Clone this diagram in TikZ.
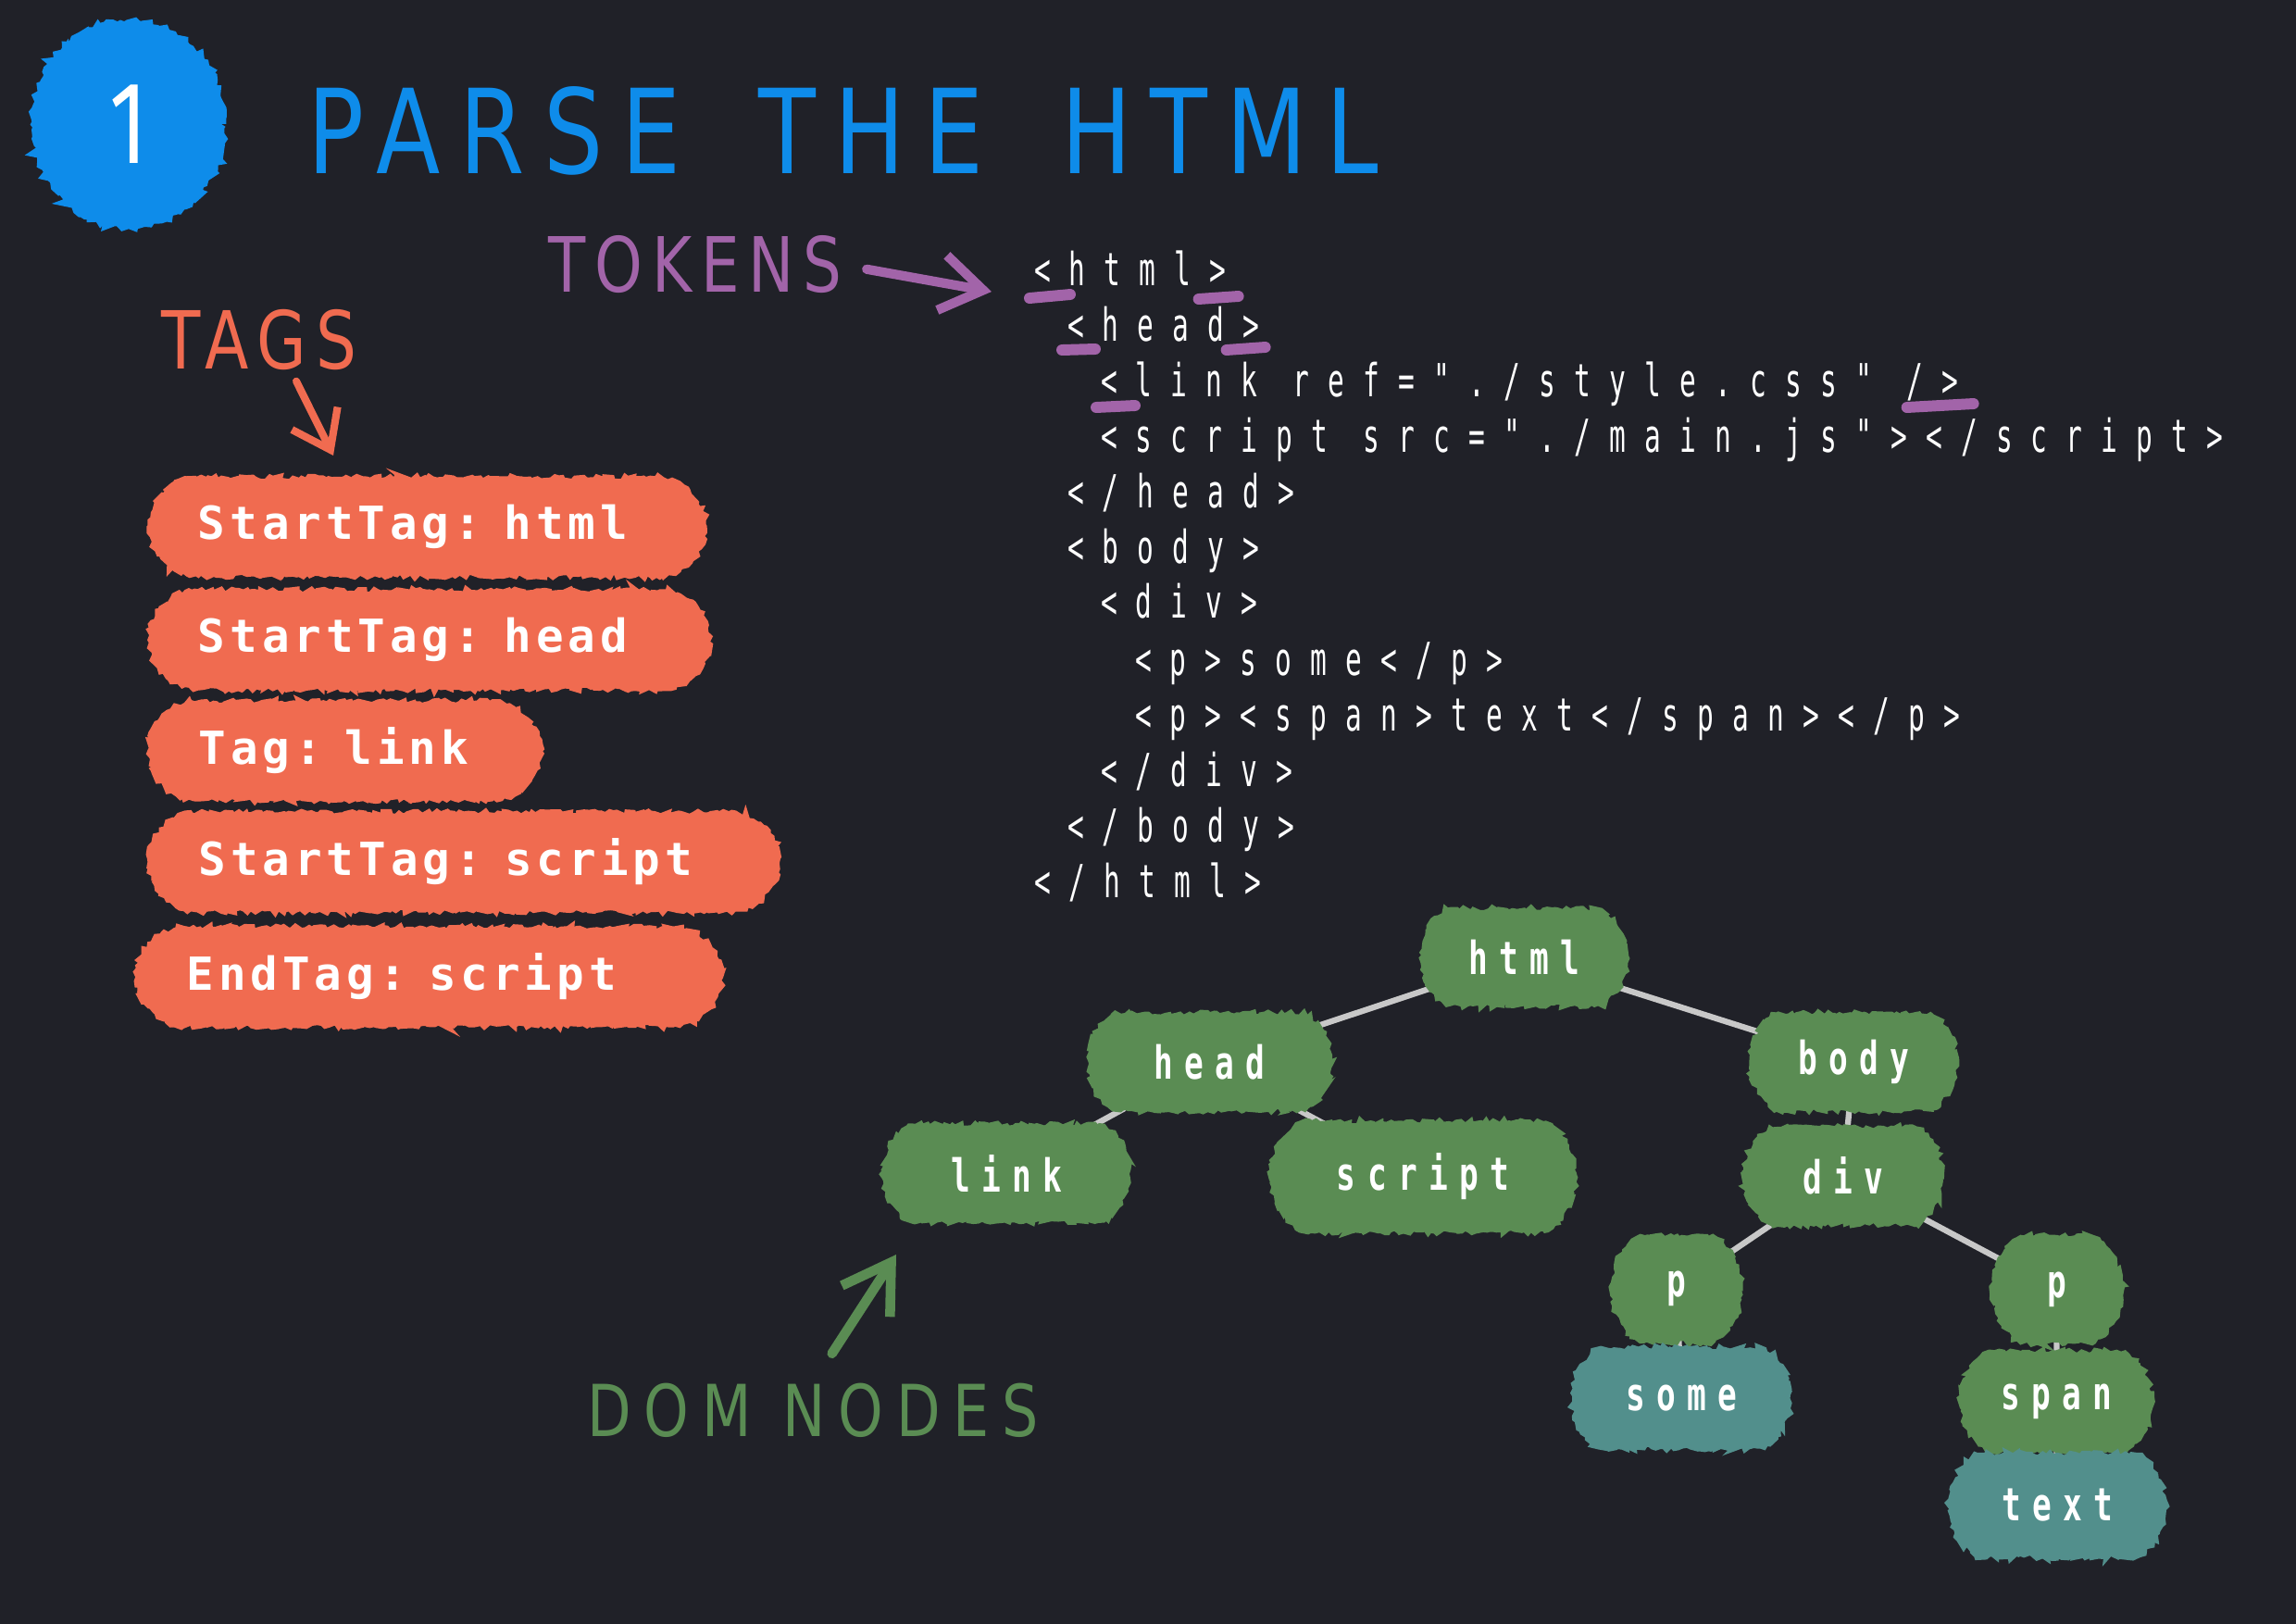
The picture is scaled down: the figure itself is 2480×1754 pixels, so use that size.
\documentclass[tikz,border=0pt]{standalone}
\usepackage{fontspec}
\usepackage{tikz}
\usetikzlibrary{arrows.meta, positioning, shapes.geometric, shapes.misc, decorations.pathmorphing}
\pgfdeclarelayer{background}
\pgfsetlayers{background,main}
\definecolor{bgdark}{HTML}{202128}
\definecolor{titleblue}{HTML}{0E8CEA}
\definecolor{tagorange}{HTML}{F06B50}
\definecolor{tokpurple}{HTML}{A264A9}
\definecolor{domgreen}{HTML}{5A8C53}
\definecolor{domteal}{HTML}{528F8C}
\definecolor{edgegray}{HTML}{C8C8C8}
\setmainfont{DejaVu Sans}
\newfontfamily\handfont{DejaVu Sans}[FakeStretch=0.8,LetterSpace=12]
\newfontfamily\titlefont{DejaVu Sans}[FakeStretch=0.8,LetterSpace=16]
\newfontfamily\numfont{Fira Sans}[FakeStretch=0.75]
\newfontfamily\codefont{DejaVu Sans Mono}[FakeStretch=0.6,LetterSpace=41]
\newfontfamily\tagfont{DejaVu Sans Mono}[LetterSpace=10]
\newfontfamily\nodefont{DejaVu Sans Mono}[FakeStretch=0.7,LetterSpace=25]
\pgfmathsetseed{11}

\begin{document}
\begin{tikzpicture}[x=0.01cm, y=-0.01cm,
    every node/.style={inner sep=0pt, outer sep=0pt},
    rough/.style={decorate, decoration={random steps, segment length=1.1pt, amplitude=0.8pt}},
    hand/.style={font=\handfont\fontsize{#1}{#1}\selectfont},
    blob/.style={ellipse, fill=titleblue, draw=titleblue, line width=3pt, rough, minimum width=2.0cm, minimum height=2.15cm, text=white, font=\numfont\fontsize{36pt}{36pt}\selectfont},
    tagpill/.style={rounded rectangle, fill=tagorange, draw=tagorange, line width=2pt, rough, minimum height=1.02cm, inner xsep=0.45cm, text width=#1, align=left, anchor=west, text=white, font=\tagfont\bfseries\fontsize{14pt}{16pt}\selectfont},
    domnode/.style={rounded rectangle, rounded rectangle arc length=110, fill=domgreen, draw=domgreen, line width=2pt, rough, minimum height=1.0cm, text=white, font=\nodefont\bfseries\fontsize{14pt}{16pt}\selectfont},
    leafnode/.style={domnode, fill=domteal, draw=domteal},
    codeline/.style={anchor=base west, text=white, font=\codefont\fontsize{14pt}{16pt}\selectfont},
    tokmark/.style={draw=tokpurple, line width=3.4pt, line cap=round},
    edge/.style={draw=edgegray, line width=1.8pt},
    tokarrow/.style={-{Straight Barb[length=0.45cm,width=0.6cm]}, draw=tokpurple, line width=2.9pt, line cap=round, line join=round},
    tagarrow/.style={-{Straight Barb[length=0.38cm,width=0.55cm]}, draw=tagorange, line width=2.3pt, line cap=round, line join=round},
    domarrow/.style={-{Straight Barb[length=0.5cm,width=0.62cm]}, draw=domgreen, line width=3pt, line cap=round, line join=round}
]
\useasboundingbox (0,0) rectangle (2480,1754);

% Heading
\node[blob] (num) at (139,134) {1};
\node[font=\titlefont\fontsize{36pt}{36pt}\selectfont, text=titleblue, anchor=west] (title) at (332,141) {PARSE\hspace{9pt} THE\hspace{9pt} HTML};

% Labels
\node[hand=23.4pt, text=tokpurple] (tokens) at (751,286) {TOKENS};
\node[hand=24.6pt, text=tagorange] (tags) at (280,367) {TAGS};
\node[font=\handfont\addfontfeature{LetterSpace=18}\fontsize{22pt}{22pt}\selectfont, text=domgreen] (dom) at (878,1523) {DOM NODES};

% Tags
\node[tagpill=4.95cm] (tghtml) at (163,569) {StartTag: html};
\node[tagpill=4.99cm] (tghead) at (163,691) {StartTag: head};
\node[tagpill=3.15cm] (tglink) at (163,811) {Tag: link};
\node[tagpill=5.72cm] (tgscript) at (163,931) {StartTag: script};
\node[tagpill=5.24cm] (tgend) at (150,1055) {EndTag: script};

% Tokens (source)
\node[codeline] (c1) at (1117,308) {<html>};
\node[codeline] (c2) at (1153,368) {<head>};
\node[codeline] (c3) at (1189,428) {<link ref="./style.css" />};
\node[codeline] (c4) at (1189,488) {<script src="./main.js"></script>};
\node[codeline] (c5) at (1153,548) {</head>};
\node[codeline] (c6) at (1153,608) {<body>};
\node[codeline] (c7) at (1189,667) {<div>};
\node[codeline] (c8) at (1226,729) {<p>some</p>};
\node[codeline] (c9) at (1226,789) {<p><span>text</span></p>};
\node[codeline] (c10) at (1189,849) {</div>};
\node[codeline] (c11) at (1153,909) {</body>};
\node[codeline] (c12) at (1117,969) {</html>};

% DOM tree
\node[domnode, minimum width=2.18cm] (nhtml) at (1646,1034) {html};
\node[domnode, minimum width=2.58cm] (nhead) at (1306,1147) {head};
\node[domnode, minimum width=2.18cm] (nbody) at (2002,1147) {body};
\node[domnode, minimum width=2.61cm] (nlink) at (1087,1267) {link};
\node[domnode, minimum width=3.24cm, minimum height=1.14cm] (nscript) at (1537,1271) {script};
\node[domnode, minimum width=2.09cm] (ndiv) at (1991,1270) {div};
\node[domnode, minimum width=1.27cm, minimum height=1.11cm] (npa) at (1811,1392) {p};
\node[domnode, minimum width=1.27cm, minimum height=1.11cm] (npb) at (2222,1393) {p};
\node[leafnode, minimum width=2.32cm, minimum height=1.04cm] (nsome) at (1816,1510) {some};
\node[domnode, minimum width=2.02cm, minimum height=1.04cm] (nspan) at (2221,1514) {span};
\node[leafnode, minimum width=2.29cm, minimum height=1.07cm] (ntext) at (2222,1626) {text};

% Arrows
\coordinate (toktip) at (1071,315);
\coordinate (tagtip) at (360,492);
\coordinate (domtip) at (968,1355);
\draw[tokarrow, shorten <=0.27cm] (tokens.east) -- (toktip);
\draw[tagarrow] ([xshift=0.4cm, yshift=-0.12cm]tags.south) -- (tagtip);
\draw[domarrow, shorten <=0.38cm] (dom.north) -- (domtip);

% Marked delimiters
\draw[tokmark] ([shift={(-5,14)}]c1.base west) -- ++(44,-4);
\draw[tokmark] ([shift={(-30,15)}]c1.base east) -- ++(43,-3);
\draw[tokmark] ([shift={(-6,10)}]c2.base west) -- ++(36,-1);
\draw[tokmark] ([shift={(-36,10)}]c2.base east) -- ++(42,-3);
\draw[tokmark] ([shift={(-5,12)}]c3.base west) -- ++(42,-2);
\draw[tokmark] ([shift={(-56,12)}]c3.base east) -- ++(72,-4);

\begin{pgfonlayer}{background}
\fill[bgdark] (0,0) rectangle (2480,1754);
\draw[edge] (nhtml) -- (nhead);
\draw[edge] (nhtml) -- (nbody);
\draw[edge] (nhead) -- (nlink);
\draw[edge] (nhead) -- (nscript);
\draw[edge] (nbody) -- (ndiv);
\draw[edge] (ndiv) -- (npa);
\draw[edge] (ndiv) -- (npb);
\draw[edge] (npa) -- (nsome);
\draw[edge] (npb) -- (nspan);
\draw[edge] (nspan) -- (ntext);
\end{pgfonlayer}
\end{tikzpicture}
\end{document}
